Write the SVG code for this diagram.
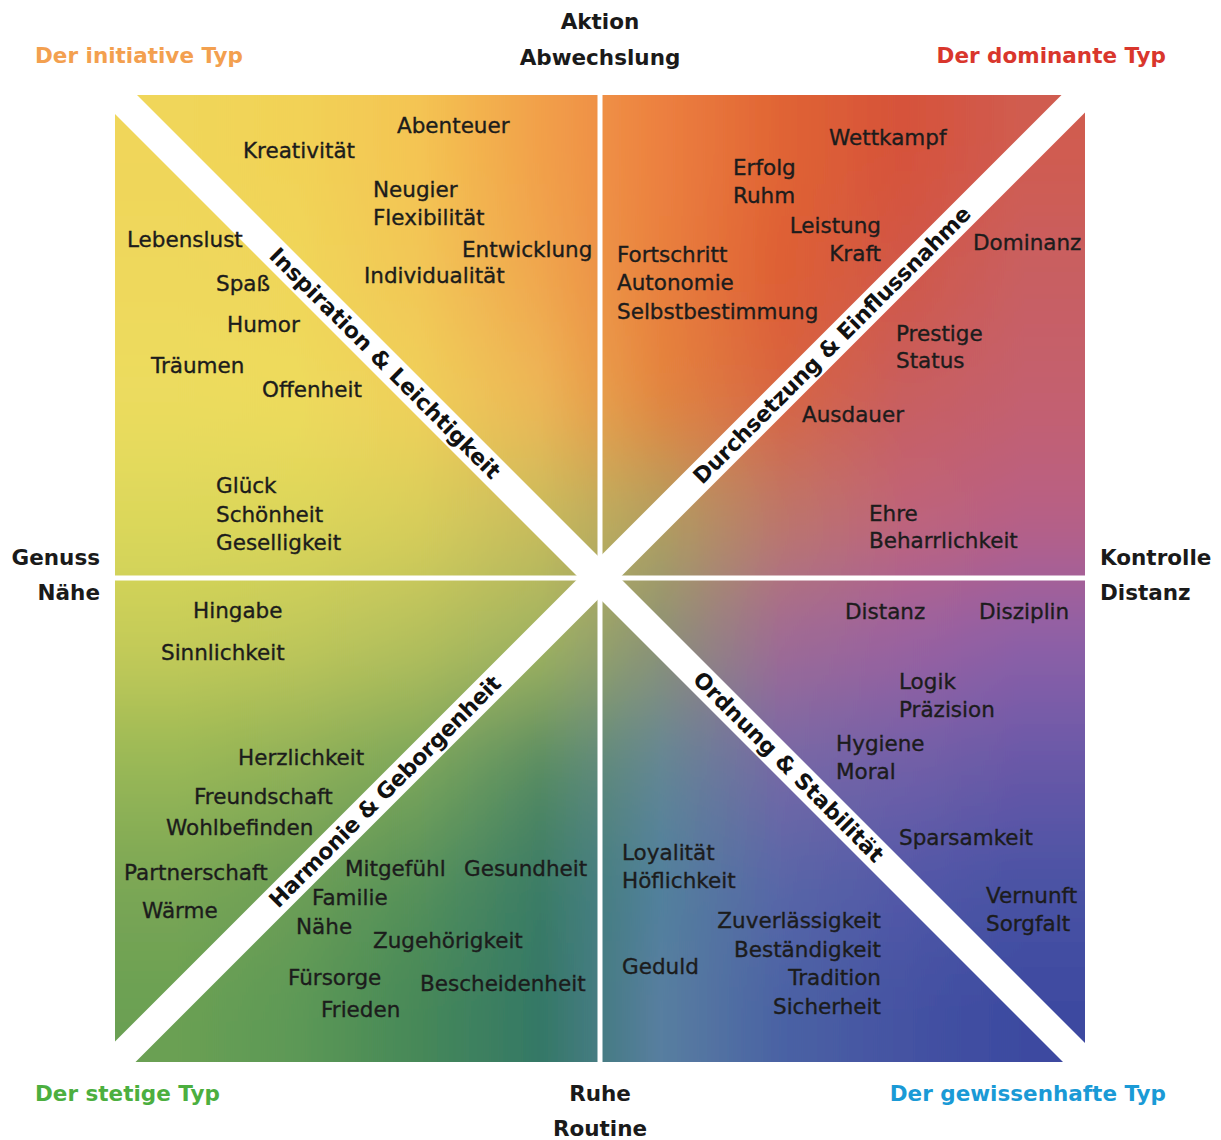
<svg xmlns="http://www.w3.org/2000/svg" width="1221" height="1140" viewBox="0 0 1221 1140">
<style>
.w{font-family:"DejaVu Sans","Liberation Sans",sans-serif;font-size:21.5px;fill:#1c1c1c;stroke:#1c1c1c;stroke-width:0.35}
.h{font-family:"DejaVu Sans","Liberation Sans",sans-serif;font-size:21.5px;font-weight:bold;fill:#1a1a1a}
.b{font-family:"DejaVu Sans","Liberation Sans",sans-serif;font-size:22px;font-weight:bold;fill:#111}
.e{text-anchor:end}
.m{text-anchor:middle}
.band{stroke:#fff;stroke-width:29;fill:none}
</style>
<defs>
<clipPath id="sq"><rect x="115" y="95" width="970" height="967"/></clipPath>
<filter id="bl" filterUnits="userSpaceOnUse" x="-200" y="-200" width="1621" height="1540">
<feGaussianBlur stdDeviation="0 48"/>
</filter>
<linearGradient id="g0" gradientUnits="userSpaceOnUse" x1="115" y1="0" x2="1085" y2="0">
<stop offset="0.0625" stop-color="#f0d65a"/><stop offset="0.1875" stop-color="#f2d256"/><stop offset="0.3125" stop-color="#f4c452"/><stop offset="0.4375" stop-color="#f2a04a"/><stop offset="0.5625" stop-color="#ec8040"/><stop offset="0.6875" stop-color="#e06434"/><stop offset="0.8125" stop-color="#d6523a"/><stop offset="0.9375" stop-color="#d05c50"/>
</linearGradient>
<linearGradient id="g1" gradientUnits="userSpaceOnUse" x1="115" y1="0" x2="1085" y2="0">
<stop offset="0.0625" stop-color="#eed85c"/><stop offset="0.1875" stop-color="#f0d65a"/><stop offset="0.3125" stop-color="#f2c656"/><stop offset="0.4375" stop-color="#f0a64e"/><stop offset="0.5625" stop-color="#e8803e"/><stop offset="0.6875" stop-color="#de5e34"/><stop offset="0.8125" stop-color="#d05848"/><stop offset="0.9375" stop-color="#c85f62"/>
</linearGradient>
<linearGradient id="g2" gradientUnits="userSpaceOnUse" x1="115" y1="0" x2="1085" y2="0">
<stop offset="0.0625" stop-color="#ecdc5e"/><stop offset="0.1875" stop-color="#eedb5c"/><stop offset="0.3125" stop-color="#f0d05a"/><stop offset="0.4375" stop-color="#eeb656"/><stop offset="0.5625" stop-color="#e4843e"/><stop offset="0.6875" stop-color="#d86440"/><stop offset="0.8125" stop-color="#c85e5e"/><stop offset="0.9375" stop-color="#c4606e"/>
</linearGradient>
<linearGradient id="g3" gradientUnits="userSpaceOnUse" x1="115" y1="0" x2="1085" y2="0">
<stop offset="0.0625" stop-color="#dcd85a"/><stop offset="0.1875" stop-color="#dcd65a"/><stop offset="0.3125" stop-color="#d8ce5a"/><stop offset="0.4375" stop-color="#c8bc5c"/><stop offset="0.5625" stop-color="#b0a05e"/><stop offset="0.6875" stop-color="#bc7868"/><stop offset="0.8125" stop-color="#c06478"/><stop offset="0.9375" stop-color="#b86084"/>
</linearGradient>
<linearGradient id="g4" gradientUnits="userSpaceOnUse" x1="115" y1="0" x2="1085" y2="0">
<stop offset="0.0625" stop-color="#c6cc58"/><stop offset="0.1875" stop-color="#c0c85a"/><stop offset="0.3125" stop-color="#b4c05c"/><stop offset="0.4375" stop-color="#a0b460"/><stop offset="0.5625" stop-color="#8c9274"/><stop offset="0.6875" stop-color="#a06a94"/><stop offset="0.8125" stop-color="#9a62a0"/><stop offset="0.9375" stop-color="#8c60a8"/>
</linearGradient>
<linearGradient id="g5" gradientUnits="userSpaceOnUse" x1="115" y1="0" x2="1085" y2="0">
<stop offset="0.0625" stop-color="#98b856"/><stop offset="0.1875" stop-color="#8eb058"/><stop offset="0.3125" stop-color="#7aa65a"/><stop offset="0.4375" stop-color="#568c62"/><stop offset="0.5625" stop-color="#628694"/><stop offset="0.6875" stop-color="#7468a6"/><stop offset="0.8125" stop-color="#7060a8"/><stop offset="0.9375" stop-color="#6858a8"/>
</linearGradient>
<linearGradient id="g6" gradientUnits="userSpaceOnUse" x1="115" y1="0" x2="1085" y2="0">
<stop offset="0.0625" stop-color="#7aa654"/><stop offset="0.1875" stop-color="#6c9e56"/><stop offset="0.3125" stop-color="#54905a"/><stop offset="0.4375" stop-color="#3a7c66"/><stop offset="0.5625" stop-color="#50809c"/><stop offset="0.6875" stop-color="#5866a8"/><stop offset="0.8125" stop-color="#5258a8"/><stop offset="0.9375" stop-color="#4852a4"/>
</linearGradient>
<linearGradient id="g7" gradientUnits="userSpaceOnUse" x1="115" y1="0" x2="1085" y2="0">
<stop offset="0.0625" stop-color="#6aa052"/><stop offset="0.1875" stop-color="#5c9856"/><stop offset="0.3125" stop-color="#468858"/><stop offset="0.4375" stop-color="#347866"/><stop offset="0.5625" stop-color="#587ea0"/><stop offset="0.6875" stop-color="#4a62a4"/><stop offset="0.8125" stop-color="#4452a2"/><stop offset="0.9375" stop-color="#3c4aa0"/>
</linearGradient>
</defs>
<rect width="1221" height="1140" fill="#fff"/>
<g id="field" clip-path="url(#sq)">
<g filter="url(#bl)">
<rect x="-100" y="-100" width="1421" height="316" fill="url(#g0)"/>
<rect x="-100" y="216" width="1421" height="121" fill="url(#g1)"/>
<rect x="-100" y="337" width="1421" height="121" fill="url(#g2)"/>
<rect x="-100" y="458" width="1421" height="121" fill="url(#g3)"/>
<rect x="-100" y="579" width="1421" height="121" fill="url(#g4)"/>
<rect x="-100" y="700" width="1421" height="121" fill="url(#g5)"/>
<rect x="-100" y="821" width="1421" height="121" fill="url(#g6)"/>
<rect x="-100" y="942" width="1421" height="300" fill="url(#g7)"/>
</g>
</g>
<g id="connectors">
<rect x="597.5" y="90" width="5" height="980" fill="#fff"/>
<rect x="110" y="575.5" width="980" height="5" fill="#fff"/>
<line class="band" x1="60" y1="38.5" x2="1140" y2="1118.5"/>
<line class="band" x1="60" y1="1117" x2="1140" y2="37"/>
</g>
<g id="band-labels">
<text class="b m" transform="translate(385,363.5) rotate(45)" y="7.5" textLength="316" lengthAdjust="spacing">Inspiration &amp; Leichtigkeit</text>
<text class="b m" transform="translate(832,345) rotate(-45)" y="7.5" textLength="382" lengthAdjust="spacing">Durchsetzung &amp; Einflussnahme</text>
<text class="b m" transform="translate(385,791.5) rotate(-45)" y="7.5" textLength="317" lengthAdjust="spacing">Harmonie &amp; Geborgenheit</text>
<text class="b m" transform="translate(788.5,767) rotate(45)" y="7.5" textLength="259" lengthAdjust="spacing">Ordnung &amp; Stabilität</text>
</g>
<g id="axis-labels">
<text class="h m" x="600" y="29">Aktion</text>
<text class="h m" x="600" y="65">Abwechslung</text>
<text class="h m" x="600" y="1101">Ruhe</text>
<text class="h m" x="600" y="1136">Routine</text>
<text class="h e" x="100" y="565">Genuss</text>
<text class="h e" x="100" y="600">Nähe</text>
<text class="h" x="1100" y="565">Kontrolle</text>
<text class="h" x="1100" y="600">Distanz</text>
<text class="h" x="35" y="63" style="fill:#f3a04f">Der initiative Typ</text>
<text class="h e" x="1166" y="63" style="fill:#d9362c">Der dominante Typ</text>
<text class="h" x="35" y="1101" style="fill:#4caf3f">Der stetige Typ</text>
<text class="h e" x="1166" y="1101" style="fill:#1a9ad6">Der gewissenhafte Typ</text>
</g>
<g id="initiative">
<text class="w" x="397" y="133">Abenteuer</text>
<text class="w" x="243" y="158">Kreativität</text>
<text class="w" x="373" y="197">Neugier</text>
<text class="w" x="373" y="225">Flexibilität</text>
<text class="w" x="127" y="247">Lebenslust</text>
<text class="w" x="462" y="257">Entwicklung</text>
<text class="w" x="364" y="283">Individualität</text>
<text class="w" x="216" y="291">Spaß</text>
<text class="w" x="227" y="332">Humor</text>
<text class="w" x="151" y="373">Träumen</text>
<text class="w" x="262" y="397">Offenheit</text>
<text class="w" x="216" y="493">Glück</text>
<text class="w" x="216" y="522">Schönheit</text>
<text class="w" x="216" y="550">Geselligkeit</text>
</g>
<g id="dominant">
<text class="w" x="829" y="145">Wettkampf</text>
<text class="w" x="733" y="175">Erfolg</text>
<text class="w" x="733" y="203">Ruhm</text>
<text class="w e" x="881" y="233">Leistung</text>
<text class="w e" x="881" y="261">Kraft</text>
<text class="w" x="973" y="250">Dominanz</text>
<text class="w" x="617" y="262">Fortschritt</text>
<text class="w" x="617" y="290">Autonomie</text>
<text class="w" x="617" y="319">Selbstbestimmung</text>
<text class="w" x="896" y="341">Prestige</text>
<text class="w" x="896" y="368">Status</text>
<text class="w" x="802" y="422">Ausdauer</text>
<text class="w" x="869" y="521">Ehre</text>
<text class="w" x="869" y="548">Beharrlichkeit</text>
</g>
<g id="stetig">
<text class="w" x="193" y="618">Hingabe</text>
<text class="w" x="161" y="660">Sinnlichkeit</text>
<text class="w" x="238" y="765">Herzlichkeit</text>
<text class="w" x="194" y="804">Freundschaft</text>
<text class="w" x="166" y="835">Wohlbefinden</text>
<text class="w" x="124" y="880">Partnerschaft</text>
<text class="w" x="345" y="876">Mitgefühl</text>
<text class="w" x="464" y="876">Gesundheit</text>
<text class="w" x="312" y="905">Familie</text>
<text class="w" x="142" y="918">Wärme</text>
<text class="w" x="296" y="934">Nähe</text>
<text class="w" x="373" y="948">Zugehörigkeit</text>
<text class="w" x="288" y="985">Fürsorge</text>
<text class="w" x="420" y="991">Bescheidenheit</text>
<text class="w" x="321" y="1017">Frieden</text>
</g>
<g id="gewissenhaft">
<text class="w" x="845" y="619">Distanz</text>
<text class="w" x="979" y="619">Disziplin</text>
<text class="w" x="899" y="689">Logik</text>
<text class="w" x="899" y="717">Präzision</text>
<text class="w" x="836" y="751">Hygiene</text>
<text class="w" x="836" y="779">Moral</text>
<text class="w" x="899" y="845">Sparsamkeit</text>
<text class="w" x="622" y="860">Loyalität</text>
<text class="w" x="622" y="888">Höflichkeit</text>
<text class="w" x="986" y="903">Vernunft</text>
<text class="w" x="986" y="931">Sorgfalt</text>
<text class="w e" x="881" y="928">Zuverlässigkeit</text>
<text class="w e" x="881" y="957">Beständigkeit</text>
<text class="w e" x="881" y="985">Tradition</text>
<text class="w e" x="881" y="1014">Sicherheit</text>
<text class="w" x="622" y="974">Geduld</text>
</g>
</svg>
